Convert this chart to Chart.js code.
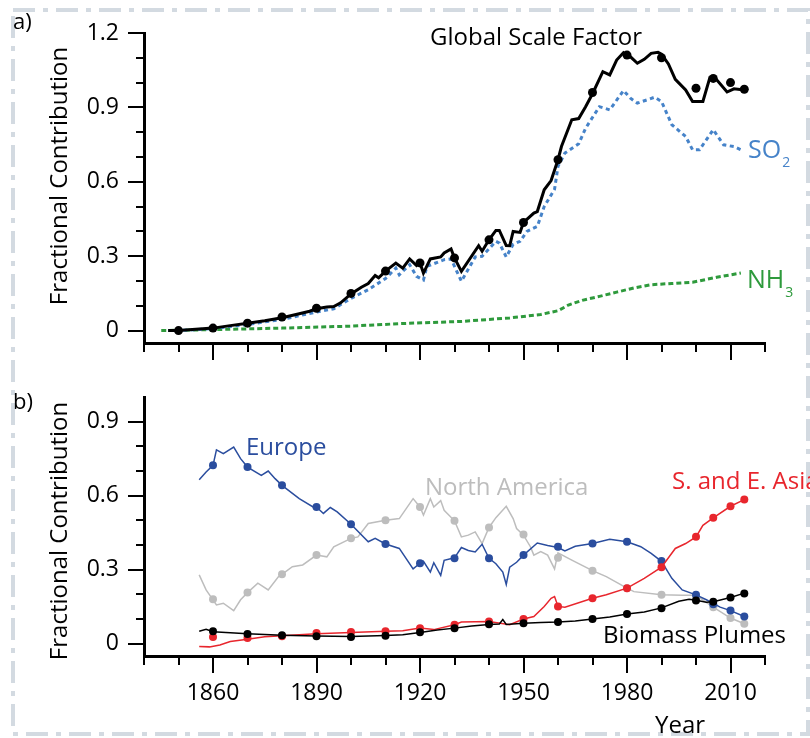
<!DOCTYPE html>
<html>
<head>
<meta charset="utf-8">
<script src="https://cdn.jsdelivr.net/npm/chart.js@4.4.0/dist/chart.umd.min.js"></script>
<style>
  body { margin: 0; background: #fff; }
  #wrap { position: relative; width: 810px; height: 738px; overflow: hidden; }
  #frame, #chartA, #chartB { position: absolute; left: 0; }
  #frame { top: 0; }
  #chartA { top: 0; }
  #chartB { top: 370px; }
</style>
</head>
<body>
<div id="wrap">
  <svg id="frame" width="810" height="738">
    <rect x="13" y="10" width="795" height="724" fill="none" stroke="#d3dae1" stroke-width="4" stroke-dasharray="22 8 5 8"/>
  </svg>
  <canvas id="chartA" width="810" height="370"></canvas>
  <canvas id="chartB" width="810" height="368"></canvas>
</div>
<script>
// ---- panel a data ----
const gsfYears = [1847, 1850, 1855, 1860, 1865, 1870, 1875, 1880, 1885, 1888, 1890, 1893, 1895, 1897, 1900, 1903, 1905, 1907, 1908, 1910,
  1913, 1915, 1917, 1919, 1920, 1921, 1923, 1926, 1927, 1929, 1930, 1932, 1937, 1938, 1940, 1942, 1943, 1945, 1946, 1947, 1949, 1950,
  1953, 1954, 1956, 1958, 1960, 1961, 1964, 1966, 1968, 1970, 1973, 1975, 1977, 1979, 1981, 1983, 1985, 1987, 1989, 1990, 1992,
  1994, 1997, 1999, 2002, 2004, 2006, 2009, 2011, 2014];
const gsfValues = [0, 0, 0.005, 0.01, 0.02, 0.03, 0.04, 0.052, 0.068, 0.078, 0.088, 0.095, 0.097, 0.112, 0.148, 0.175, 0.19, 0.222, 0.213, 0.24,
  0.272, 0.252, 0.289, 0.262, 0.273, 0.232, 0.289, 0.297, 0.313, 0.329, 0.293, 0.239, 0.342, 0.32, 0.366, 0.404, 0.404, 0.343, 0.342, 0.40, 0.396, 0.436,
  0.474, 0.48, 0.568, 0.605, 0.689, 0.742, 0.85, 0.855, 0.903, 0.955, 1.044, 1.031, 1.091, 1.121, 1.104, 1.078, 1.094, 1.118, 1.122, 1.115, 1.075,
  1.013, 0.97, 0.924, 0.924, 1.019, 1.011, 0.962, 0.975, 0.97];
const gsfMarkYears = [1850, 1860, 1870, 1880, 1890, 1900, 1910, 1920, 1930, 1940, 1950, 1960, 1970, 1980, 1990, 2000, 2005, 2010, 2014];
const gsfMarkValues = [0, 0.01, 0.03, 0.055, 0.09, 0.15, 0.24, 0.273, 0.293, 0.366, 0.436, 0.689, 0.96, 1.111, 1.10, 0.977, 1.017, 1.0, 0.973];

const so2Years = [1847, 1850, 1860, 1870, 1880, 1890, 1895, 1900, 1905, 1910, 1913, 1914, 1917, 1919, 1921, 1922, 1927, 1929, 1932, 1936,
  1938, 1942, 1943, 1945, 1947, 1949, 1951, 1954, 1956, 1959, 1960, 1962, 1966, 1968, 1972, 1975, 1979, 1981, 1983, 1988, 1990,
  1993, 1997, 1999, 2001, 2005, 2008, 2011, 2013];
const so2Values = [0, 0, 0.008, 0.025, 0.045, 0.075, 0.088, 0.13, 0.165, 0.21, 0.252, 0.225, 0.266, 0.219, 0.204, 0.259, 0.286, 0.289, 0.199, 0.297,
  0.30, 0.36, 0.353, 0.297, 0.348, 0.36, 0.40, 0.42, 0.50, 0.57, 0.662, 0.716, 0.753, 0.816, 0.903, 0.89, 0.968, 0.937, 0.917, 0.941, 0.924,
  0.83, 0.783, 0.729, 0.729, 0.81, 0.749, 0.742, 0.729];

const nh3Years = [1845, 1860, 1880, 1900, 1914, 1932, 1946, 1955, 1960, 1963, 1967, 1972, 1977, 1982, 1987, 1993, 1999, 2006, 2013];
const nh3Values = [0, 0.004, 0.01, 0.018, 0.028, 0.037, 0.051, 0.065, 0.08, 0.103, 0.122, 0.138, 0.155, 0.172, 0.185, 0.19, 0.195, 0.215, 0.232];

// ---- panel b data ----
const euYears = [1856, 1858, 1860, 1861, 1863, 1866, 1868, 1870, 1874, 1876, 1878, 1880, 1885, 1889, 1890, 1892, 1894, 1896, 1900, 1905,
  1907, 1910, 1914, 1918, 1920, 1921, 1923, 1924, 1926, 1927, 1930, 1932, 1934, 1936, 1938, 1940, 1942, 1944, 1945, 1946, 1948, 1950,
  1954, 1957, 1960, 1962, 1965, 1970, 1975, 1980, 1984, 1987, 1990, 1993, 1996, 2000, 2003, 2007, 2010, 2014];
const euValues = [0.665, 0.696, 0.723, 0.786, 0.77, 0.797, 0.75, 0.716, 0.682, 0.70, 0.669, 0.642, 0.588, 0.554, 0.554, 0.528, 0.552, 0.534, 0.484, 0.413,
  0.427, 0.404, 0.386, 0.303, 0.326, 0.334, 0.29, 0.328, 0.277, 0.338, 0.348, 0.39, 0.378, 0.372, 0.403, 0.346, 0.324, 0.29, 0.24, 0.31, 0.33, 0.359,
  0.408, 0.398, 0.39, 0.376, 0.395, 0.406, 0.423, 0.413, 0.393, 0.366, 0.334, 0.265, 0.218, 0.198, 0.178, 0.148, 0.134, 0.110];

const naYears = [1856, 1858, 1861, 1863, 1866, 1868, 1870, 1873, 1876, 1879, 1880, 1883, 1886, 1890, 1893, 1895, 1900, 1902, 1905, 1910,
  1914, 1918, 1920, 1921, 1923, 1924, 1926, 1927, 1930, 1932, 1934, 1936, 1938, 1940, 1942, 1945, 1947, 1948, 1950, 1952, 1953, 1955,
  1957, 1959, 1960, 1964, 1970, 1974, 1980, 1982, 1990, 1996, 2000, 2005, 2010, 2014];
const naValues = [0.279, 0.218, 0.157, 0.164, 0.134, 0.178, 0.207, 0.245, 0.218, 0.272, 0.281, 0.312, 0.319, 0.359, 0.352, 0.393, 0.427, 0.433, 0.487, 0.50,
  0.507, 0.588, 0.554, 0.521, 0.588, 0.554, 0.58, 0.541, 0.498, 0.433, 0.44, 0.453, 0.406, 0.471, 0.511, 0.557, 0.507, 0.467, 0.44, 0.393, 0.359, 0.373,
  0.359, 0.303, 0.368, 0.339, 0.296, 0.272, 0.225, 0.211, 0.198, 0.196, 0.196, 0.148, 0.104, 0.081];

const asiaYears = [1856, 1859, 1862, 1865, 1870, 1875, 1880, 1890, 1900, 1910, 1915, 1920, 1924, 1930, 1932, 1940, 1946, 1950, 1953, 1956,
  1958, 1959, 1960, 1962, 1970, 1974, 1980, 1985, 1990, 1994, 1997, 2000, 2002, 2005, 2010, 2014];
const asiaValues = [-0.011, -0.013, -0.005, 0.009, 0.018, 0.028, 0.032, 0.04, 0.045, 0.05, 0.052, 0.063, 0.057, 0.077, 0.088, 0.09, 0.077, 0.10, 0.11, 0.151,
  0.184, 0.191, 0.151, 0.148, 0.184, 0.198, 0.225, 0.265, 0.31, 0.386, 0.406, 0.433, 0.48, 0.51, 0.557, 0.584];

const bioYears = [1856, 1858, 1860, 1865, 1870, 1875, 1880, 1890, 1900, 1910, 1915, 1920, 1925, 1930, 1935, 1940, 1943, 1944, 1945, 1950,
  1955, 1960, 1965, 1970, 1975, 1980, 1985, 1990, 1995, 1998, 2000, 2003, 2005, 2010, 2014];
const bioValues = [0.05, 0.058, 0.048, 0.044, 0.04, 0.037, 0.034, 0.031, 0.029, 0.033, 0.036, 0.045, 0.055, 0.063, 0.072, 0.078, 0.08, 0.098, 0.078, 0.083,
  0.086, 0.088, 0.092, 0.10, 0.108, 0.12, 0.128, 0.145, 0.172, 0.18, 0.176, 0.168, 0.17, 0.187, 0.205];

const markYearsB = [1860, 1870, 1880, 1890, 1900, 1910, 1920, 1930, 1940, 1950, 1960, 1970, 1980, 1990, 2000, 2005, 2010, 2014];
const euMarks = [0.723, 0.716, 0.642, 0.554, 0.484, 0.404, 0.326, 0.346, 0.346, 0.359, 0.393, 0.406, 0.413, 0.335, 0.198, 0.16, 0.134, 0.110];
const naMarks = [0.180, 0.207, 0.281, 0.359, 0.427, 0.50, 0.554, 0.498, 0.471, 0.443, 0.348, 0.296, 0.225, 0.198, 0.19, 0.148, 0.104, 0.081];
const asiaMarks = [0.027, 0.023, 0.030, 0.043, 0.047, 0.050, 0.063, 0.077, 0.090, 0.10, 0.151, 0.184, 0.225, 0.31, 0.433, 0.51, 0.557, 0.584];
const bioMarks = [0.050, 0.039, 0.034, 0.030, 0.027, 0.032, 0.046, 0.063, 0.079, 0.083, 0.088, 0.10, 0.12, 0.144, 0.175, 0.17, 0.187, 0.203];

// ---- ticks ----
const xMinorTicks = [1840, 1850, 1860, 1870, 1880, 1890, 1900, 1910, 1920, 1930, 1940, 1950, 1960, 1970, 1980, 1990, 2000, 2010, 2020];
const xMajorTicks = [1860, 1890, 1920, 1950, 1980, 2010];
const yMinorA = [0, 0.1, 0.2, 0.3, 0.4, 0.5, 0.6, 0.7, 0.8, 0.9, 1.0, 1.1, 1.2];
const yMajorA = [0, 0.3, 0.6, 0.9, 1.2];
const yLabelsA = ['0', '0.3', '0.6', '0.9', '1.2'];
const yMinorB = [0, 0.1, 0.2, 0.3, 0.4, 0.5, 0.6, 0.7, 0.8, 0.9];
const yMajorB = [0, 0.3, 0.6, 0.9];
const yLabelsB = ['0', '0.3', '0.6', '0.9'];

const FONT = "'Open Sans', sans-serif";
Chart.defaults.font.family = FONT;
Chart.defaults.color = '#000';

const pts = (xs, ys) => xs.map((x, i) => ({ x: x, y: ys[i] }));

// tick marks + annotation text
const axisExtras = {
  id: 'axisExtras',
  afterDraw(chart, args, opts) {
    const ctx = chart.ctx, sx = chart.scales.x, sy = chart.scales.y, a = chart.chartArea;
    ctx.save();
    ctx.strokeStyle = '#000';
    ctx.lineWidth = 2;
    ctx.beginPath();
    xMinorTicks.forEach(v => {
      const p = Math.round(sx.getPixelForValue(v));
      const len = xMajorTicks.includes(v) ? 17 : 9;
      ctx.moveTo(p, a.bottom); ctx.lineTo(p, a.bottom + len);
    });
    opts.yMinor.forEach(v => {
      const p = Math.round(sy.getPixelForValue(v));
      const len = opts.yMajor.includes(v) ? 16 : 8;
      ctx.moveTo(a.left, p); ctx.lineTo(a.left - len, p);
    });
    ctx.stroke();
    ctx.textBaseline = 'alphabetic';
    opts.texts.forEach(t => {
      ctx.fillStyle = t.color || '#000';
      ctx.font = (t.size || 24) + 'px ' + FONT;
      if (t.rot) {
        ctx.save();
        ctx.translate(t.x, t.y);
        ctx.rotate(-Math.PI / 2);
        ctx.textAlign = 'center';
        ctx.fillText(t.t, 0, 0);
        ctx.restore();
        return;
      }
      ctx.textAlign = 'left';
      ctx.fillText(t.t, t.x, t.y);
      if (t.sub) {
        const w = ctx.measureText(t.t).width;
        ctx.font = t.subSize + 'px ' + FONT;
        ctx.fillText(t.sub, t.x + w + 1, t.y + t.subDy);
      }
    });
    ctx.restore();
  }
};

// invisible grid ticks give the label gap without adding edge padding
const gapGrid = len => ({ display: true, drawOnChartArea: false, drawTicks: true, tickLength: len, tickColor: 'rgba(0,0,0,0)' });

function xScale(showLabels) {
  return {
    type: 'linear', min: 1840, max: 2020,
    grid: gapGrid(24),
    border: { color: '#000', width: 3 },
    afterBuildTicks: s => { s.ticks = xMajorTicks.map(v => ({ value: v })); },
    ticks: { display: showLabels, padding: 0, font: { size: 23 }, maxRotation: 0, autoSkip: false, callback: v => String(v) },
    afterFit: s => { s.height = showLabels ? 82 : 27; }
  };
}
function yScale(min, max, major, labels) {
  return {
    min: min, max: max,
    grid: gapGrid(25),
    border: { color: '#000', width: 3 },
    afterBuildTicks: s => { s.ticks = major.map(v => ({ value: v })); },
    ticks: { padding: 0, font: { size: 23 }, autoSkip: false, callback: (v, i) => labels[i] },
    afterFit: s => { s.width = 144; }
  };
}

const lineDs = (label, xs, ys, color, width, dash, order) => ({
  label: label, data: pts(xs, ys), borderColor: color, borderWidth: width, borderDash: dash,
  pointRadius: 0, tension: 0, fill: false, order: order
});
const markDs = (label, xs, ys, color, r, order) => ({
  label: label, data: pts(xs, ys), showLine: false, pointRadius: r, pointBackgroundColor: color,
  pointBorderWidth: 0, borderColor: color, order: order
});

new Chart(document.getElementById('chartA'), {
  type: 'line',
  data: {
    datasets: [
      markDs('Global Scale Factor points', gsfMarkYears, gsfMarkValues, '#000', 4.5, 0),
      lineDs('Global Scale Factor', gsfYears, gsfValues, '#000', 3, [], 1),
      lineDs('SO2', so2Years, so2Values, '#4683c9', 3, [4, 3.5], 2),
      lineDs('NH3', nh3Years, nh3Values, '#2e9a3c', 3, [5, 3], 3)
    ]
  },
  options: {
    responsive: false, animation: false, devicePixelRatio: 1,
    layout: { padding: { top: 33, right: 45, left: 0, bottom: 0 } },
    plugins: {
      legend: { display: false }, tooltip: { enabled: false },
      axisExtras: {
        yMinor: yMinorA, yMajor: yMajorA,
        texts: [
          { t: 'a)', x: 13, y: 29, size: 22 },
          { t: 'Fractional Contribution', x: 67, y: 176, size: 24, rot: true },
          { t: 'Global Scale Factor', x: 430, y: 45, size: 24 },
          { t: 'SO', x: 748, y: 158, size: 25, color: '#4683c9', sub: '2', subSize: 14, subDy: 9 },
          { t: 'NH', x: 747, y: 288, size: 25, color: '#2e9a3c', sub: '3', subSize: 14, subDy: 9 }
        ]
      }
    },
    scales: { x: xScale(false), y: yScale(-0.05, 1.2, yMajorA, yLabelsA) }
  },
  plugins: [axisExtras]
});

new Chart(document.getElementById('chartB'), {
  type: 'line',
  data: {
    datasets: [
      markDs('Biomass Plumes points', markYearsB, bioMarks, '#000', 4, 0),
      lineDs('Biomass Plumes', bioYears, bioValues, '#000', 1.5, [], 1),
      markDs('S. and E. Asia points', markYearsB, asiaMarks, '#e8262d', 4, 2),
      lineDs('S. and E. Asia', asiaYears, asiaValues, '#e8262d', 1.5, [], 3),
      markDs('Europe points', markYearsB, euMarks, '#2a4d9e', 4, 4),
      lineDs('Europe', euYears, euValues, '#2a4d9e', 1.5, [], 5),
      markDs('North America points', markYearsB, naMarks, '#bdbdbd', 4, 6),
      lineDs('North America', naYears, naValues, '#bdbdbd', 1.5, [], 7)
    ]
  },
  options: {
    responsive: false, animation: false, devicePixelRatio: 1,
    layout: { padding: { top: 27, right: 45, left: 0, bottom: 0 } },
    plugins: {
      legend: { display: false }, tooltip: { enabled: false },
      axisExtras: {
        yMinor: yMinorB, yMajor: yMajorB,
        texts: [
          { t: 'b)', x: 13, y: 39, size: 22 },
          { t: 'Fractional Contribution', x: 67, y: 161, size: 24, rot: true },
          { t: 'Europe', x: 246, y: 85, size: 24, color: '#2a4d9e' },
          { t: 'North America', x: 425, y: 125, size: 24, color: '#bdbdbd' },
          { t: 'S. and E. Asia', x: 672, y: 119, size: 24, color: '#e8262d' },
          { t: 'Biomass Plumes', x: 603, y: 273, size: 24 },
          { t: 'Year', x: 655, y: 363, size: 24 }
        ]
      }
    },
    scales: { x: xScale(true), y: yScale(-0.05, 1.0, yMajorB, yLabelsB) }
  },
  plugins: [axisExtras]
});
</script>
</body>
</html>
